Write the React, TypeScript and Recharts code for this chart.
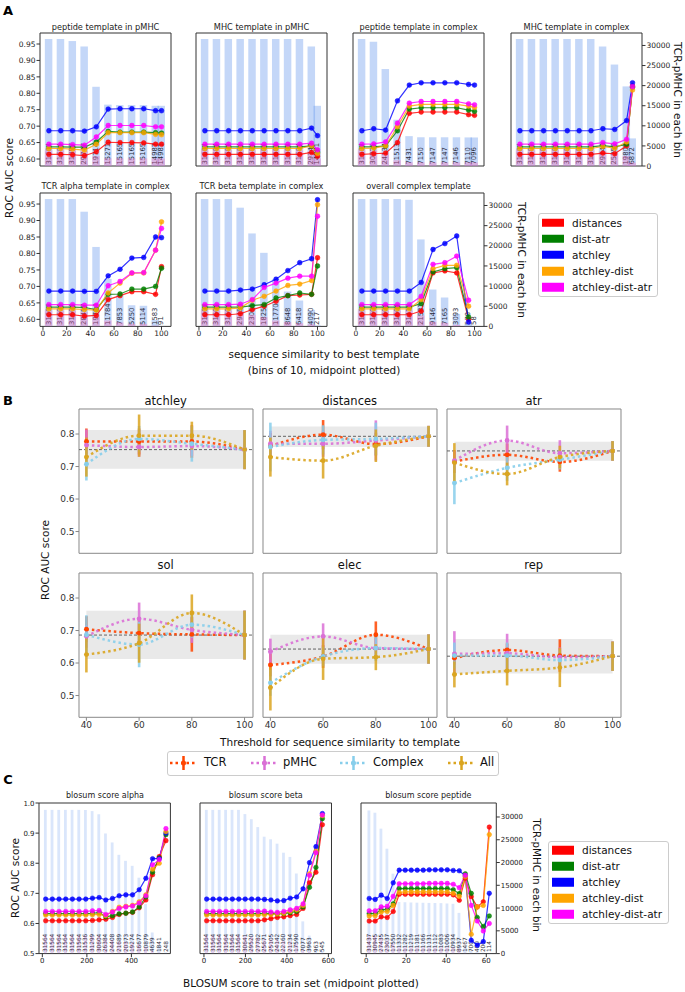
import React from "react";
import { ComposedChart, Bar, Line, XAxis, YAxis, ReferenceArea, ReferenceLine, ErrorBar } from "recharts";

const FONT = "'DejaVu Sans', Verdana, sans-serif";

// ---------------- shared ----------------
const modelNames = ["distances", "dist-atr", "atchley", "atchley-dist", "atchley-dist-atr"];
const modelColors = ["#ff0000", "#008000", "#0000ff", "#ffa500", "#ff00ff"];

// ---------------- Panel A ----------------
const aX = [5, 15, 25, 35, 45, 55, 65, 75, 85, 95, 100];
const aXTicks = [0, 20, 40, 60, 80, 100];
const aYTicks = [0.6, 0.65, 0.7, 0.75, 0.8, 0.85, 0.9, 0.95];
const countTicks = [0, 5000, 10000, 15000, 20000, 25000, 30000];

// peptide template in pMHC
const pepPmhcCounts = [31604, 31604, 31097, 29747, 19714, 15271, 15165, 15165, 15165, 14987, 14981];
const pepPmhcPos = [3950, 3950, 3890, 3720, 2460, 1910, 1900, 1900, 1900, 1870, 1870];
const pepPmhcDistances = [0.614, 0.614, 0.613, 0.61, 0.622, 0.651, 0.65, 0.65, 0.649, 0.645, 0.645];
const pepPmhcDistAtr = [0.637, 0.637, 0.636, 0.636, 0.652, 0.684, 0.682, 0.682, 0.682, 0.68, 0.679];
const pepPmhcAtchley = [0.686, 0.686, 0.686, 0.685, 0.698, 0.752, 0.753, 0.753, 0.753, 0.747, 0.747];
const pepPmhcAtchleyDist = [0.632, 0.632, 0.63, 0.627, 0.645, 0.68, 0.68, 0.68, 0.68, 0.675, 0.674];
const pepPmhcAtchleyDistAtr = [0.645, 0.645, 0.644, 0.642, 0.667, 0.702, 0.702, 0.702, 0.702, 0.698, 0.698];

// MHC template in pMHC
const mhcPmhcCounts = [31604, 31604, 31604, 31604, 31604, 31604, 31604, 31604, 31604, 29747, 14981];
const mhcPmhcPos = [3950, 3950, 3950, 3950, 3950, 3950, 3950, 3950, 3950, 3720, 1870];
const mhcPmhcDistances = [0.614, 0.614, 0.614, 0.614, 0.614, 0.614, 0.614, 0.614, 0.614, 0.62, 0.608];
const mhcPmhcDistAtr = [0.637, 0.637, 0.637, 0.637, 0.637, 0.637, 0.637, 0.637, 0.637, 0.64, 0.621];
const mhcPmhcAtchley = [0.686, 0.686, 0.686, 0.686, 0.686, 0.686, 0.686, 0.686, 0.686, 0.694, 0.671];
const mhcPmhcAtchleyDist = [0.632, 0.632, 0.632, 0.632, 0.632, 0.632, 0.632, 0.632, 0.632, 0.64, 0.617];
const mhcPmhcAtchleyDistAtr = [0.645, 0.645, 0.645, 0.645, 0.645, 0.645, 0.645, 0.645, 0.645, 0.648, 0.628];

// peptide template in complex
const pepCplxCounts = [31604, 30925, 24134, 11513, 7431, 7150, 7147, 7147, 7146, 7110, 7096];
const pepCplxPos = [3950, 3870, 3020, 1440, 930, 895, 895, 895, 895, 890, 887];
const pepCplxDistances = [0.614, 0.616, 0.618, 0.65, 0.739, 0.743, 0.743, 0.743, 0.743, 0.735, 0.733];
const pepCplxDistAtr = [0.637, 0.637, 0.64, 0.686, 0.752, 0.756, 0.756, 0.756, 0.756, 0.749, 0.745];
const pepCplxAtchley = [0.686, 0.692, 0.688, 0.777, 0.825, 0.832, 0.832, 0.832, 0.832, 0.827, 0.825];
const pepCplxAtchleyDist = [0.632, 0.633, 0.64, 0.698, 0.761, 0.766, 0.766, 0.766, 0.766, 0.761, 0.757];
const pepCplxAtchleyDistAtr = [0.645, 0.646, 0.652, 0.709, 0.77, 0.775, 0.775, 0.775, 0.775, 0.768, 0.765];

// MHC template in complex
const mhcCplxCounts = [31604, 31604, 31604, 31604, 31604, 31604, 31604, 29740, 25250, 19808, 6872];
const mhcCplxPos = [3950, 3950, 3950, 3950, 3950, 3950, 3950, 3720, 3160, 2480, 860];
const mhcCplxDistances = [0.614, 0.614, 0.614, 0.614, 0.614, 0.614, 0.614, 0.618, 0.616, 0.64, 0.822];
const mhcCplxDistAtr = [0.637, 0.637, 0.637, 0.637, 0.637, 0.637, 0.637, 0.641, 0.637, 0.645, 0.818];
const mhcCplxAtchley = [0.686, 0.686, 0.686, 0.686, 0.686, 0.686, 0.686, 0.692, 0.69, 0.717, 0.832];
const mhcCplxAtchleyDist = [0.632, 0.632, 0.632, 0.632, 0.632, 0.632, 0.632, 0.638, 0.633, 0.652, 0.81];
const mhcCplxAtchleyDistAtr = [0.645, 0.645, 0.645, 0.645, 0.645, 0.645, 0.645, 0.65, 0.646, 0.66, 0.82];

// TCR alpha template in complex
const alphaCounts = [31604, 31604, 31604, 28457, 19714, 11784, 7853, 5250, 5114, 1583, 91];
const alphaPos = [3950, 3950, 3950, 3560, 2460, 1470, 980, 660, 640, 200, 11];
const alphaDistances = [0.614, 0.614, 0.614, 0.61, 0.612, 0.66, 0.672, 0.684, 0.684, 0.676, 0.76];
const alphaDistAtr = [0.637, 0.637, 0.637, 0.636, 0.63, 0.676, 0.677, 0.692, 0.692, 0.7, 0.755];
const alphaAtchley = [0.686, 0.686, 0.686, 0.685, 0.685, 0.732, 0.752, 0.786, 0.788, 0.85, 0.848];
const alphaAtchleyDist = [0.632, 0.632, 0.632, 0.63, 0.628, 0.68, 0.71, 0.74, 0.741, 0.81, 0.896];
const alphaAtchleyDistAtr = [0.645, 0.645, 0.645, 0.643, 0.643, 0.702, 0.715, 0.741, 0.742, 0.81, 0.876];

// TCR beta template in complex
const betaCounts = [31604, 31604, 31604, 29454, 23065, 18253, 11770, 8648, 6418, 4090, 217];
const betaPos = [3950, 3950, 3950, 3680, 2880, 2280, 1470, 1080, 800, 510, 27];
const betaDistances = [0.614, 0.614, 0.614, 0.617, 0.63, 0.64, 0.655, 0.672, 0.674, 0.676, 0.787];
const betaDistAtr = [0.637, 0.637, 0.637, 0.637, 0.642, 0.645, 0.665, 0.672, 0.68, 0.676, 0.762];
const betaAtchley = [0.686, 0.686, 0.686, 0.689, 0.692, 0.705, 0.722, 0.748, 0.772, 0.784, 0.963];
const betaAtchleyDist = [0.632, 0.632, 0.632, 0.635, 0.658, 0.67, 0.686, 0.703, 0.707, 0.718, 0.948];
const betaAtchleyDistAtr = [0.645, 0.645, 0.645, 0.646, 0.66, 0.697, 0.71, 0.725, 0.731, 0.731, 0.913];

// overall complex template
const overallCounts = [31604, 31604, 31604, 31604, 31410, 21581, 9146, 7165, 3093, 578, 58];
const overallPos = [3950, 3950, 3950, 3950, 3930, 2700, 1140, 900, 390, 72, 7];
const overallDistances = [0.614, 0.614, 0.614, 0.614, 0.614, 0.625, 0.741, 0.747, 0.741, 0.6, null];
const overallDistAtr = [0.637, 0.637, 0.637, 0.637, 0.637, 0.648, 0.744, 0.754, 0.757, 0.607, null];
const overallAtchley = [0.686, 0.686, 0.686, 0.686, 0.686, 0.712, 0.812, 0.83, 0.853, 0.592, null];
const overallAtchleyDist = [0.632, 0.632, 0.632, 0.632, 0.632, 0.66, 0.754, 0.764, 0.764, 0.64, null];
const overallAtchleyDistAtr = [0.645, 0.645, 0.645, 0.645, 0.645, 0.67, 0.767, 0.772, 0.792, 0.658, null];

// ---------------- Panel B ----------------
const bX = [40, 60, 80, 100];
const bXTicks = [40, 60, 80, 100];
const bYTicks = [0.5, 0.6, 0.7, 0.8];
const bBandX = [40, 100];
const bSeriesNames = ["TCR", "pMHC", "Complex", "All"];
const bSeriesColors = ["#ff4500", "#da70d6", "#87ceeb", "#daa520"];

const atchleyTCR = [0.777, 0.777, 0.777, 0.752];
const atchleyTCRErr = [0.04, 0.04, 0.05, 0.06];
const atchleyPMHC = [0.766, 0.76, 0.763, 0.752];
const atchleyPMHCErr = [0.048, 0.03, 0.03, 0.06];
const atchleyCplx = [0.707, 0.785, 0.77, 0.752];
const atchleyCplxErr = [0.05, 0.04, 0.055, 0.06];
const atchleyAll = [0.729, 0.795, 0.795, 0.752];
const atchleyAllErr = [0.06, 0.065, 0.043, 0.06];
const atchleyBand = [0.693, 0.812];
const atchleyRef = 0.752;

const distancesTCR = [0.763, 0.798, 0.769, 0.793];
const distancesTCRErr = [0.04, 0.045, 0.035, 0.032];
const distancesPMHC = [0.77, 0.77, 0.78, 0.793];
const distancesPMHCErr = [0.04, 0.04, 0.062, 0.032];
const distancesCplx = [0.76, 0.782, 0.785, 0.793];
const distancesCplxErr = [0.075, 0.045, 0.05, 0.032];
const distancesAll = [0.729, 0.718, 0.764, 0.793];
const distancesAllErr = [0.06, 0.055, 0.05, 0.032];
const distancesBand = [0.76, 0.823];
const distancesRef = 0.793;

const atrTCR = [0.715, 0.736, 0.714, 0.748];
const atrTCRErr = [0.035, 0.035, 0.03, 0.03];
const atrPMHC = [0.718, 0.78, 0.741, 0.748];
const atrPMHCErr = [0.03, 0.046, 0.04, 0.03];
const atrCplx = [0.649, 0.696, 0.721, 0.748];
const atrCplxErr = [0.065, 0.04, 0.03, 0.03];
const atrAll = [0.712, 0.677, 0.729, 0.748];
const atrAllErr = [0.06, 0.035, 0.035, 0.03];
const atrBand = [0.718, 0.776];
const atrRef = 0.748;

const solTCR = [0.704, 0.692, 0.688, 0.686];
const solTCRErr = [0.04, 0.04, 0.053, 0.075];
const solPMHC = [0.682, 0.736, 0.702, 0.686];
const solPMHCErr = [0.035, 0.05, 0.04, 0.075];
const solCplx = [0.687, 0.657, 0.718, 0.686];
const solCplxErr = [0.06, 0.07, 0.04, 0.075];
const solAll = [0.626, 0.661, 0.754, 0.686];
const solAllErr = [0.055, 0.06, 0.057, 0.075];
const solBand = [0.612, 0.761];
const solRef = 0.686;

const elecTCR = [0.594, 0.62, 0.687, 0.643];
const elecTCRErr = [0.035, 0.035, 0.041, 0.045];
const elecPMHC = [0.635, 0.682, 0.646, 0.643];
const elecPMHCErr = [0.04, 0.04, 0.03, 0.045];
const elecCplx = [0.539, 0.62, 0.646, 0.643];
const elecCplxErr = [0.04, 0.03, 0.04, 0.045];
const elecAll = [0.524, 0.613, 0.618, 0.643];
const elecAllErr = [0.07, 0.065, 0.04, 0.045];
const elecBand = [0.598, 0.687];
const elecRef = 0.643;

const repTCR = [0.615, 0.64, 0.623, 0.621];
const repTCRErr = [0.02, 0.02, 0.05, 0.045];
const repPMHC = [0.628, 0.63, 0.618, 0.621];
const repPMHCErr = [0.07, 0.06, 0.03, 0.045];
const repCplx = [0.623, 0.623, 0.609, 0.621];
const repCplxErr = [0.04, 0.04, 0.03, 0.045];
const repAll = [0.565, 0.576, 0.586, 0.621];
const repAllErr = [0.04, 0.045, 0.06, 0.045];
const repBand = [0.568, 0.674];
const repRef = 0.621;

// ---------------- Panel C ----------------
const cYTicks = [0.5, 0.6, 0.7, 0.8, 0.9, 1.0];
const cAlphaTicks = [0, 200, 400];
const cBetaTicks = [0, 200, 400, 600];
const cPepTicks = [0, 20, 40, 60];

const cAlphaX = [15, 45, 75, 105, 135, 165, 195, 225, 255, 285, 315, 345, 375, 405, 435, 465, 495, 525, 555];
const cAlphaCounts = [31564, 31564, 31564, 31564, 31564, 31564, 31536, 31299, 30604, 26384, 24408, 21689, 20373, 19274, 16677, 10879, 4639, 1841, 248];
const cAlphaPos = [3950, 3950, 3950, 3950, 3950, 3950, 3940, 3910, 3830, 3300, 3050, 2710, 2550, 2410, 2080, 1360, 580, 230, 31];
const cAlphaDistances = [0.609, 0.609, 0.609, 0.609, 0.609, 0.609, 0.609, 0.61, 0.612, 0.614, 0.62, 0.63, 0.634, 0.637, 0.652, 0.678, 0.762, 0.822, 0.875];
const cAlphaDistAtr = [0.633, 0.633, 0.633, 0.633, 0.633, 0.633, 0.633, 0.634, 0.636, 0.622, 0.626, 0.632, 0.634, 0.638, 0.655, 0.688, 0.77, 0.818, 0.895];
const cAlphaAtchley = [0.681, 0.681, 0.681, 0.681, 0.681, 0.681, 0.681, 0.684, 0.686, 0.678, 0.683, 0.692, 0.695, 0.695, 0.712, 0.75, 0.815, 0.815, 0.9];
const cAlphaAtchleyDist = [0.628, 0.628, 0.628, 0.628, 0.628, 0.628, 0.628, 0.629, 0.63, 0.626, 0.64, 0.654, 0.657, 0.66, 0.672, 0.695, 0.78, 0.8, 0.905];
const cAlphaAtchleyDistAtr = [0.64, 0.64, 0.64, 0.64, 0.64, 0.64, 0.64, 0.642, 0.643, 0.63, 0.638, 0.65, 0.655, 0.658, 0.668, 0.692, 0.795, 0.812, 0.915];

const cBetaX = [13, 44, 75, 106, 137, 168, 199, 230, 261, 292, 323, 354, 385, 416, 447, 478, 509, 540, 571];
const cBetaCounts = [31564, 31564, 31564, 31564, 31564, 31564, 30641, 29520, 27782, 25671, 25105, 24142, 22160, 21234, 17590, 7077, 3963, 963, 545];
const cBetaPos = [3950, 3950, 3950, 3950, 3950, 3950, 3830, 3690, 3470, 3210, 3140, 3020, 2770, 2650, 2200, 880, 500, 120, 68];
const cBetaDistances = [0.609, 0.609, 0.609, 0.609, 0.609, 0.609, 0.609, 0.609, 0.609, 0.612, 0.616, 0.62, 0.622, 0.626, 0.63, 0.65, 0.735, 0.77, 0.928];
const cBetaDistAtr = [0.633, 0.633, 0.633, 0.633, 0.633, 0.633, 0.633, 0.633, 0.633, 0.634, 0.633, 0.632, 0.633, 0.636, 0.64, 0.655, 0.72, 0.786, 0.948];
const cBetaAtchley = [0.681, 0.681, 0.681, 0.681, 0.681, 0.681, 0.681, 0.681, 0.681, 0.68, 0.678, 0.675, 0.676, 0.684, 0.688, 0.715, 0.802, 0.855, 0.965];
const cBetaAtchleyDist = [0.628, 0.628, 0.628, 0.628, 0.628, 0.628, 0.628, 0.628, 0.628, 0.629, 0.63, 0.632, 0.634, 0.64, 0.645, 0.66, 0.765, 0.84, 0.958];
const cBetaAtchleyDistAtr = [0.64, 0.64, 0.64, 0.64, 0.64, 0.64, 0.64, 0.64, 0.64, 0.641, 0.638, 0.637, 0.64, 0.645, 0.65, 0.665, 0.76, 0.835, 0.96];

const cPepX = [1.5, 4.5, 7.5, 10.5, 13.5, 16.5, 19.5, 22.5, 25.5, 28.5, 31.5, 34.5, 37.5, 40.5, 43.5, 46.5, 49.5, 52.5, 55.5, 58.5, 61.5];
const cPepCounts = [31437, 30945, 27435, 23037, 17550, 11332, 11282, 11219, 11181, 11166, 11131, 11112, 11083, 11006, 10934, 8937, 1467, 700, 400, 200, 114];
const cPepPos = [3930, 3870, 3430, 2880, 2190, 1420, 1410, 1400, 1400, 1400, 1390, 1390, 1385, 1375, 1370, 1120, 183, 88, 50, 25, 14];
const cPepDistances = [0.608, 0.608, 0.622, 0.62, 0.64, 0.697, 0.697, 0.697, 0.697, 0.697, 0.697, 0.697, 0.697, 0.697, 0.695, 0.677, 0.75, 0.689, 0.655, 0.672, 0.92];
const cPepDistAtr = [0.633, 0.633, 0.645, 0.647, 0.665, 0.716, 0.716, 0.716, 0.716, 0.716, 0.716, 0.716, 0.716, 0.716, 0.712, 0.699, 0.765, 0.7, 0.62, 0.59, 0.625];
const cPepAtchley = [0.683, 0.68, 0.694, 0.683, 0.735, 0.777, 0.777, 0.777, 0.777, 0.777, 0.778, 0.778, 0.778, 0.778, 0.776, 0.775, 0.758, 0.544, 0.528, 0.54, 0.7];
const cPepAtchleyDist = [0.625, 0.626, 0.638, 0.64, 0.66, 0.703, 0.705, 0.705, 0.705, 0.705, 0.705, 0.705, 0.705, 0.705, 0.7, 0.69, 0.755, 0.564, 0.655, 0.66, 0.895];
const cPepAtchleyDistAtr = [0.642, 0.642, 0.655, 0.657, 0.69, 0.732, 0.732, 0.732, 0.732, 0.732, 0.733, 0.733, 0.733, 0.733, 0.73, 0.719, 0.76, 0.66, 0.608, 0.575, 0.6];

// ---------------- helpers ----------------
function countRows(xs: number[], counts: number[], pos: number[], series: (number | null)[][]) {
  return xs.map((x, i) => {
    const r: any = { x, count: counts[i], pos: pos[i] };
    series.forEach((s, k) => (r["m" + k] = s[i]));
    return r;
  });
}

function bRows(tcr: number[], tcrE: number[], pm: number[], pmE: number[], cx: number[], cxE: number[], al: number[], alE: number[]) {
  return bX.map((x, i) => ({
    x,
    s0: tcr[i], s0E: tcrE[i],
    s1: pm[i], s1E: pmE[i],
    s2: cx[i], s2E: cxE[i],
    s3: al[i], s3E: alE[i],
  }));
}

function Txt(props: any) {
  const { x, y, size, children, rotate = 0, weight = "normal", color = "#111", anchor = "middle" } = props;
  const tx = anchor === "middle" ? "-50%" : anchor === "start" ? "0%" : "-100%";
  return (
    <div
      style={{
        position: "absolute",
        left: x,
        top: y,
        transform: `translate(${tx}, -50%) rotate(${rotate}deg)`,
        fontSize: size,
        fontFamily: FONT,
        fontWeight: weight,
        color,
        whiteSpace: "nowrap",
        lineHeight: 1,
      }}
    >
      {children}
    </div>
  );
}

function makeCountShape(barW: number, opacity: number, pinkOpacity: number, numSize: number) {
  return (props: any) => {
    const { x, y, width, height, payload } = props;
    if (x == null || y == null || !payload) return <g />;
    const cx = x + width / 2;
    const bottom = y + height;
    const pinkH = payload.count > 0 ? (height * payload.pos) / payload.count : 0;
    const ty = bottom - 1.5;
    return (
      <g>
        <rect x={cx - barW / 2} y={y} width={barW} height={height} fill="#6495ed" fillOpacity={opacity} />
        <text
          x={cx}
          y={ty}
          transform={`rotate(-90 ${cx} ${ty})`}
          fontSize={numSize}
          fontFamily={FONT}
          fill="#2b2b3b"
          dominantBaseline="central"
        >
          {String(payload.count)}
        </text>
        <rect x={cx - barW / 2} y={bottom - pinkH} width={barW} height={pinkH} fill="#ff69b4" fillOpacity={pinkOpacity} />
      </g>
    );
  };
}

function CountPanel(p: any) {
  const lw = p.showY ? 30 : 6;
  const rw = p.showR ? 36 : 3;
  const bh = p.showX ? 16 : 6;
  const tp = 3;
  const W = lw + p.fw + rw;
  const H = tp + p.fh + bh;
  const tickStyle = { fontSize: p.tickSize, fill: "#222", fontFamily: FONT };
  const shape = makeCountShape(p.barW, p.barOpacity, p.pinkOpacity, p.numSize);
  return (
    <>
      <Txt x={p.fx + p.fw / 2} y={p.fy - p.titleDy} size={p.titleSize} color="#222">
        {p.title}
      </Txt>
      <div style={{ position: "absolute", left: p.fx - lw, top: p.fy - tp }}>
        <ComposedChart width={W} height={H} data={p.data} margin={{ top: tp, right: 0, bottom: 0, left: 0 }}>
          <XAxis
            xAxisId="x"
            dataKey="x"
            type="number"
            domain={p.xDomain}
            ticks={p.xTicks}
            allowDataOverflow
            height={bh}
            interval={0}
            tick={p.showX ? tickStyle : false}
            tickSize={3.5}
            tickMargin={1}
            axisLine={false}
            tickLine={{ stroke: "#333" }}
          />
          <YAxis
            yAxisId="l"
            orientation="left"
            type="number"
            domain={p.yDomain}
            ticks={p.yTicks}
            allowDataOverflow
            width={lw}
            interval={0}
            tick={p.showY ? tickStyle : false}
            tickFormatter={(v: number) => v.toFixed(p.yDigits)}
            tickSize={3.5}
            tickMargin={1}
            axisLine={false}
            tickLine={{ stroke: "#333" }}
          />
          <YAxis
            yAxisId="r"
            orientation="right"
            type="number"
            domain={p.rDomain}
            ticks={countTicks}
            allowDataOverflow
            width={rw}
            interval={0}
            tick={p.showR ? tickStyle : false}
            tickSize={3.5}
            tickMargin={1}
            axisLine={false}
            tickLine={p.showR ? { stroke: "#333" } : false}
          />
          <Bar xAxisId="x" yAxisId="r" dataKey="count" barSize={60} shape={shape} isAnimationActive={false} />
          {modelColors.map((c, k) => (
            <Line
              key={k}
              xAxisId="x"
              yAxisId="l"
              dataKey={"m" + k}
              stroke={c}
              strokeOpacity={0.8}
              strokeWidth={1.2}
              dot={{ r: p.dotR, fill: c, stroke: c, strokeWidth: 0.6, fillOpacity: 0.85 }}
              activeDot={false}
              isAnimationActive={false}
            />
          ))}
          <ReferenceArea
            xAxisId="x"
            yAxisId="l"
            x1={p.xDomain[0]}
            x2={p.xDomain[1]}
            y1={p.yDomain[0]}
            y2={p.yDomain[1]}
            fill="none"
            fillOpacity={0}
            stroke="#333"
            strokeWidth={1}
            ifOverflow="visible"
          />
        </ComposedChart>
      </div>
    </>
  );
}

const B_X_DOMAIN = [37.2, 103.2];
const B_Y_DOMAIN = [0.433, 0.877];

function BPanel(p: any) {
  const fw = 174;
  const fh = 144.3;
  const lw = p.showY ? 30 : 6;
  const bh = p.showX ? 17 : 6;
  const tp = 3;
  const rw = 3;
  const tickStyle = { fontSize: 9, fill: "#333", fontFamily: FONT };
  return (
    <>
      <Txt x={p.fx + fw / 2} y={p.fy - 7.5} size={11.5} color="#111">
        {p.title}
      </Txt>
      <div style={{ position: "absolute", left: p.fx - lw, top: p.fy - tp }}>
        <ComposedChart width={lw + fw + rw} height={tp + fh + bh} data={p.data} margin={{ top: tp, right: rw, bottom: 0, left: 0 }}>
          <XAxis
            dataKey="x"
            type="number"
            domain={B_X_DOMAIN}
            ticks={bXTicks}
            allowDataOverflow
            height={bh}
            interval={0}
            tick={p.showX ? tickStyle : false}
            tickSize={3.5}
            tickMargin={1}
            axisLine={false}
            tickLine={{ stroke: "#888" }}
          />
          <YAxis
            type="number"
            domain={B_Y_DOMAIN}
            ticks={bYTicks}
            allowDataOverflow
            width={lw}
            interval={0}
            tick={p.showY ? tickStyle : false}
            tickFormatter={(v: number) => v.toFixed(1)}
            tickSize={3.5}
            tickMargin={1}
            axisLine={false}
            tickLine={{ stroke: "#888" }}
          />
          <ReferenceArea x1={bBandX[0]} x2={bBandX[1]} y1={p.band[0]} y2={p.band[1]} fill="#d3d3d3" fillOpacity={0.5} stroke="none" />
          <ReferenceLine y={p.refV} stroke="#555" strokeDasharray="3 2" strokeWidth={0.9} />
          {bSeriesColors.map((c, k) => (
            <Line
              key={k}
              type="monotone"
              dataKey={"s" + k}
              stroke={c}
              strokeWidth={2.5}
              strokeOpacity={0.9}
              strokeDasharray="2.5 3"
              dot={{ r: 2.4, fill: c, stroke: c, strokeWidth: 0 }}
              activeDot={false}
              isAnimationActive={false}
            >
              <ErrorBar dataKey={"s" + k + "E"} width={0} strokeWidth={2.6} stroke={c} strokeOpacity={0.85} direction="y" />
            </Line>
          ))}
          <ReferenceArea
            x1={B_X_DOMAIN[0]}
            x2={B_X_DOMAIN[1]}
            y1={B_Y_DOMAIN[0]}
            y2={B_Y_DOMAIN[1]}
            fill="none"
            fillOpacity={0}
            stroke="#888"
            strokeWidth={1}
            ifOverflow="visible"
          />
        </ComposedChart>
      </div>
    </>
  );
}

function ModelLegend(p: any) {
  return (
    <div
      style={{
        position: "absolute",
        left: p.x,
        top: p.y,
        width: p.w,
        height: p.h,
        border: "1px solid #cccccc",
        borderRadius: 3,
        background: "#fff",
        boxSizing: "border-box",
      }}
    >
      {modelNames.map((n, i) => (
        <div key={n} style={{ position: "absolute", left: 3, top: p.first + i * p.step, transform: "translateY(-50%)", display: "flex", alignItems: "center" }}>
          <div style={{ width: 22, height: 8.5, background: modelColors[i] }} />
          <div style={{ marginLeft: 8, fontSize: 10.5, fontFamily: FONT, color: "#111", lineHeight: 1, whiteSpace: "nowrap" }}>{n}</div>
        </div>
      ))}
    </div>
  );
}

function BLegend() {
  const items = [
    { m: 170, t: 204 },
    { m: 251, t: 283 },
    { m: 340, t: 373 },
    { m: 448, t: 480 },
  ];
  return (
    <>
      <div
        style={{
          position: "absolute",
          left: 167,
          top: 751,
          width: 332,
          height: 25,
          border: "1px solid #cccccc",
          borderRadius: 3,
          background: "#fff",
          boxSizing: "border-box",
        }}
      />
      {items.map((it, i) => (
        <React.Fragment key={i}>
          <svg style={{ position: "absolute", left: it.m, top: 755 }} width={27} height={16}>
            <line x1={0} y1={8} x2={27} y2={8} stroke={bSeriesColors[i]} strokeWidth={2.5} strokeDasharray="2.5 3" />
            <line x1={13.5} y1={1} x2={13.5} y2={15} stroke={bSeriesColors[i]} strokeWidth={2.5} />
            <circle cx={13.5} cy={8} r={2.5} fill={bSeriesColors[i]} />
          </svg>
          <Txt x={it.t} y={763} size={11.5} anchor="start">
            {bSeriesNames[i]}
          </Txt>
        </React.Fragment>
      ))}
    </>
  );
}

// ---------------- layout constants ----------------
const A_X_DOMAIN = [-2.5, 108];
const A_Y_DOMAIN = [0.5787, 0.9835];
const A_R_DOMAIN = [0, 33100];
const C_Y_DOMAIN = [0.5, 1.0];
const C_R_DOMAIN = [0, 33074];

const aCommon = {
  fw: 131,
  xDomain: A_X_DOMAIN,
  xTicks: aXTicks,
  yDomain: A_Y_DOMAIN,
  yTicks: aYTicks,
  yDigits: 2,
  rDomain: A_R_DOMAIN,
  barW: 7.5,
  barOpacity: 0.38,
  pinkOpacity: 0.35,
  numSize: 6.8,
  tickSize: 7.5,
  titleSize: 8.2,
  dotR: 2.4,
};

const cCommon = {
  fy: 802.7,
  fh: 150.6,
  titleDy: 6.7,
  yDomain: C_Y_DOMAIN,
  yTicks: cYTicks,
  yDigits: 1,
  rDomain: C_R_DOMAIN,
  barW: 2.8,
  barOpacity: 0.24,
  pinkOpacity: 0.18,
  numSize: 5.8,
  tickSize: 7,
  titleSize: 8,
  dotR: 2.3,
  showX: true,
};

export default function App() {
  const a1 = countRows(aX, pepPmhcCounts, pepPmhcPos, [pepPmhcDistances, pepPmhcDistAtr, pepPmhcAtchley, pepPmhcAtchleyDist, pepPmhcAtchleyDistAtr]);
  const a2 = countRows(aX, mhcPmhcCounts, mhcPmhcPos, [mhcPmhcDistances, mhcPmhcDistAtr, mhcPmhcAtchley, mhcPmhcAtchleyDist, mhcPmhcAtchleyDistAtr]);
  const a3 = countRows(aX, pepCplxCounts, pepCplxPos, [pepCplxDistances, pepCplxDistAtr, pepCplxAtchley, pepCplxAtchleyDist, pepCplxAtchleyDistAtr]);
  const a4 = countRows(aX, mhcCplxCounts, mhcCplxPos, [mhcCplxDistances, mhcCplxDistAtr, mhcCplxAtchley, mhcCplxAtchleyDist, mhcCplxAtchleyDistAtr]);
  const a5 = countRows(aX, alphaCounts, alphaPos, [alphaDistances, alphaDistAtr, alphaAtchley, alphaAtchleyDist, alphaAtchleyDistAtr]);
  const a6 = countRows(aX, betaCounts, betaPos, [betaDistances, betaDistAtr, betaAtchley, betaAtchleyDist, betaAtchleyDistAtr]);
  const a7 = countRows(aX, overallCounts, overallPos, [overallDistances, overallDistAtr, overallAtchley, overallAtchleyDist, overallAtchleyDistAtr]);

  const c1 = countRows(cAlphaX, cAlphaCounts, cAlphaPos, [cAlphaDistances, cAlphaDistAtr, cAlphaAtchley, cAlphaAtchleyDist, cAlphaAtchleyDistAtr]);
  const c2 = countRows(cBetaX, cBetaCounts, cBetaPos, [cBetaDistances, cBetaDistAtr, cBetaAtchley, cBetaAtchleyDist, cBetaAtchleyDistAtr]);
  const c3 = countRows(cPepX, cPepCounts, cPepPos, [cPepDistances, cPepDistAtr, cPepAtchley, cPepAtchleyDist, cPepAtchleyDistAtr]);

  const row1 = { fy: 33, fh: 133, titleDy: 6.5 };
  const row2 = { fy: 193.3, fh: 133.4, titleDy: 7.3 };

  return (
    <div style={{ position: "absolute", left: 0, top: 0, width: 685, height: 992, background: "#fff", overflow: "hidden", fontFamily: FONT }}>
      {/* ---------- A ---------- */}
      <Txt x={8} y={10} size={13} weight="bold" color="#000">A</Txt>
      <CountPanel {...aCommon} {...row1} fx={40} title="peptide template in pMHC" data={a1} showX={false} showY={true} showR={false} />
      <CountPanel {...aCommon} {...row1} fx={196} title="MHC template in pMHC" data={a2} showX={false} showY={false} showR={false} />
      <CountPanel {...aCommon} {...row1} fx={353} title="peptide template in complex" data={a3} showX={false} showY={false} showR={false} />
      <CountPanel {...aCommon} {...row1} fx={511} title="MHC template in complex" data={a4} showX={false} showY={false} showR={true} />
      <CountPanel {...aCommon} {...row2} fx={40} title="TCR alpha template in complex" data={a5} showX={true} showY={true} showR={false} />
      <CountPanel {...aCommon} {...row2} fx={196} title="TCR beta template in complex" data={a6} showX={true} showY={false} showR={false} />
      <CountPanel {...aCommon} {...row2} fx={353} title="overall complex template" data={a7} showX={true} showY={false} showR={true} />
      <ModelLegend x={538} y={213} w={120} h={84} first={8.5} step={16.2} />
      <Txt x={9} y={178} size={10.5} rotate={-90}>ROC AUC score</Txt>
      <Txt x={678} y={100} size={10.5} rotate={90}>TCR-pMHC in each bin</Txt>
      <Txt x={522} y={260} size={10.5} rotate={90}>TCR-pMHC in each bin</Txt>
      <Txt x={324} y={354} size={10.4}>sequence similarity to best template</Txt>
      <Txt x={324} y={370} size={10.4}>(bins of 10, midpoint plotted)</Txt>

      {/* ---------- B ---------- */}
      <Txt x={8} y={400} size={13} weight="bold" color="#000">B</Txt>
      <BPanel fx={78.7} fy={409.3} title="atchley" data={bRows(atchleyTCR, atchleyTCRErr, atchleyPMHC, atchleyPMHCErr, atchleyCplx, atchleyCplxErr, atchleyAll, atchleyAllErr)} band={atchleyBand} refV={atchleyRef} showX={false} showY={true} />
      <BPanel fx={262.7} fy={409.3} title="distances" data={bRows(distancesTCR, distancesTCRErr, distancesPMHC, distancesPMHCErr, distancesCplx, distancesCplxErr, distancesAll, distancesAllErr)} band={distancesBand} refV={distancesRef} showX={false} showY={false} />
      <BPanel fx={446.7} fy={409.3} title="atr" data={bRows(atrTCR, atrTCRErr, atrPMHC, atrPMHCErr, atrCplx, atrCplxErr, atrAll, atrAllErr)} band={atrBand} refV={atrRef} showX={false} showY={false} />
      <BPanel fx={78.7} fy={573.3} title="sol" data={bRows(solTCR, solTCRErr, solPMHC, solPMHCErr, solCplx, solCplxErr, solAll, solAllErr)} band={solBand} refV={solRef} showX={true} showY={true} />
      <BPanel fx={262.7} fy={573.3} title="elec" data={bRows(elecTCR, elecTCRErr, elecPMHC, elecPMHCErr, elecCplx, elecCplxErr, elecAll, elecAllErr)} band={elecBand} refV={elecRef} showX={true} showY={false} />
      <BPanel fx={446.7} fy={573.3} title="rep" data={bRows(repTCR, repTCRErr, repPMHC, repPMHCErr, repCplx, repCplxErr, repAll, repAllErr)} band={repBand} refV={repRef} showX={true} showY={false} />
      <Txt x={45} y={560} size={10.5} rotate={-90}>ROC AUC score</Txt>
      <Txt x={340} y={742} size={10.5}>Threshold for sequence similarity to template</Txt>
      <BLegend />

      {/* ---------- C ---------- */}
      <Txt x={8} y={779} size={13} weight="bold" color="#000">C</Txt>
      <CountPanel {...cCommon} fx={39.3} fw={131.4} xDomain={[-15, 575]} xTicks={cAlphaTicks} title="blosum score alpha" data={c1} showY={true} showR={false} />
      <CountPanel {...cCommon} fx={200} fw={131.5} xDomain={[-19, 615]} xTicks={cBetaTicks} title="blosum score beta" data={c2} showY={false} showR={false} />
      <CountPanel {...cCommon} fx={360.7} fw={135.3} xDomain={[-2.6, 65]} xTicks={cPepTicks} title="blosum score peptide" data={c3} showY={false} showR={true} />
      <ModelLegend x={548} y={841} w={121} h={83} first={8.3} step={16} />
      <Txt x={15} y={878} size={10.5} rotate={-90}>ROC AUC score</Txt>
      <Txt x={537} y={875} size={10.3} rotate={90}>TCR-pMHC in each bin</Txt>
      <Txt x={301} y={983} size={10.5}>BLOSUM score to train set (midpoint plotted)</Txt>
    </div>
  );
}
